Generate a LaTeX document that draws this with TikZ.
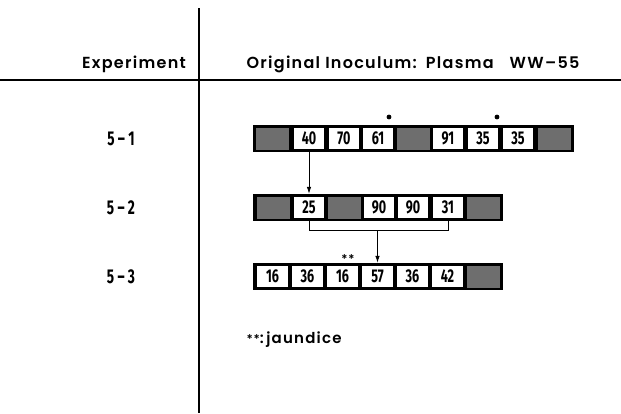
\documentclass[tikz,border=0pt]{standalone}
\usepackage{fontspec}
\usetikzlibrary{arrows.meta}
\newfontfamily\headfont{Poppins}[UprightFont=* SemiBold, LetterSpace=8]
\newfontfamily\notefont{Poppins}[UprightFont=* SemiBold, LetterSpace=8]
\newfontfamily\numfont{Fira Sans}[FakeStretch=0.68, UprightFont=* Bold]
\begin{document}
\begin{tikzpicture}[x=1pt,y=-1pt,
  bar/.style={fill=black, inner sep=0pt, minimum height=27pt, anchor=west},
  cellbox/.style={draw=black, fill=white, line width=0.8pt, inner sep=0pt,
    minimum width=31.5pt, minimum height=21.5pt, font=\numfont\fontsize{18.5}{18.5}\selectfont},
  graycell/.style={fill=black!57, inner sep=0pt, minimum width=33pt, minimum height=22pt},
  rowlabel/.style={font=\numfont\fontsize{20}{20}\selectfont},
  head/.style={font=\headfont\fontsize{16}{16}\selectfont},
  rule/.style={line width=2.6pt, black},
  conn/.style={line width=0.8pt, black},
  arr/.style={conn, -{Latex[length=7pt,width=4.5pt]}},
  dotmark/.style={circle, fill=black, inner sep=0pt, minimum size=4.8pt}]
\useasboundingbox (0,0) rectangle (621,413);
% frame lines
\coordinate (vtop) at (199,8);
\coordinate (vbot) at (199,413);
\coordinate (hl) at (0,80);
\coordinate (hr) at (621,80);
\draw[rule] (vtop) -- (vbot);
\draw[rule] (hl) -- (hr);
% headers
\node[head, anchor=base] (hexp) at (134,68) {Experiment};
\node[head, anchor=base] (horig) at (413,68) {Original Inoculum:\hspace{9pt}Plasma\hspace{16pt}WW–55};
% row labels
\node[rowlabel] (l1) at (121,139) {5\,–\,1};
\node[rowlabel] (l2) at (121,208) {5\,–\,2};
\node[rowlabel] (l3) at (121,277) {5\,–\,3};
% row 1
\node[bar, minimum width=321pt] (bar1) at (253,138.5) {};
\node[graycell] (r1c0) at (272.5,138.5) {};
\node[cellbox] (r1c1) at (309,138.5) {40};
\node[cellbox] (r1c2) at (344,138.5) {70};
\node[cellbox] (r1c3) at (378,138.5) {61};
\node[graycell] (r1c4) at (413.5,138.5) {};
\node[cellbox] (r1c5) at (448,138.5) {91};
\node[cellbox] (r1c6) at (483,138.5) {35};
\node[cellbox] (r1c7) at (518,138.5) {35};
\node[graycell] (r1c8) at (554,138.5) {};
\node[dotmark] (d1) at (389,117) {};
\node[dotmark] (d2) at (497,117) {};
% row 2
\node[bar, minimum width=250pt] (bar2) at (253,207.5) {};
\node[graycell] (r2c0) at (273,207.5) {};
\node[cellbox] (r2c1) at (309,207.5) {25};
\node[graycell] (r2c2) at (344,207.5) {};
\node[cellbox] (r2c3) at (379,207.5) {90};
\node[cellbox] (r2c4) at (413,207.5) {90};
\node[cellbox] (r2c5) at (448,207.5) {31};
\node[graycell] (r2c6) at (483,207.5) {};
% row 3
\node[bar, minimum width=250pt] (bar3) at (253,276.5) {};
\node[cellbox] (r3c0) at (272.5,276.5) {16};
\node[cellbox] (r3c1) at (307.5,276.5) {36};
\node[cellbox] (r3c2) at (342.5,276.5) {16};
\node[cellbox] (r3c3) at (377.5,276.5) {57};
\node[cellbox] (r3c4) at (412.5,276.5) {36};
\node[cellbox] (r3c5) at (447.5,276.5) {42};
\node[graycell] (r3c6) at (483,276.5) {};
\node[font=\notefont\fontsize{12}{12}\selectfont, inner sep=0pt] (ast) at (348,259) {**};
% connectors
\draw[arr] (bar1.south -| r1c1) -- (bar2.north -| r2c1);
\coordinate (bl) at (309,230);
\coordinate (br) at (448,230);
\coordinate (bm) at (377.5,230);
\draw[conn] (bar2.south -| r2c1) -- (bl) -- (br) -- (bar2.south -| r2c5);
\draw[arr] (bm) -- (bar3.north -| r3c3);
% note
\node[anchor=west, font=\notefont\fontsize{15}{15}\selectfont] (note) at (243,340)
  {{\fontsize{12}{12}\selectfont **}:\,jaundice};
\end{tikzpicture}
\end{document}
